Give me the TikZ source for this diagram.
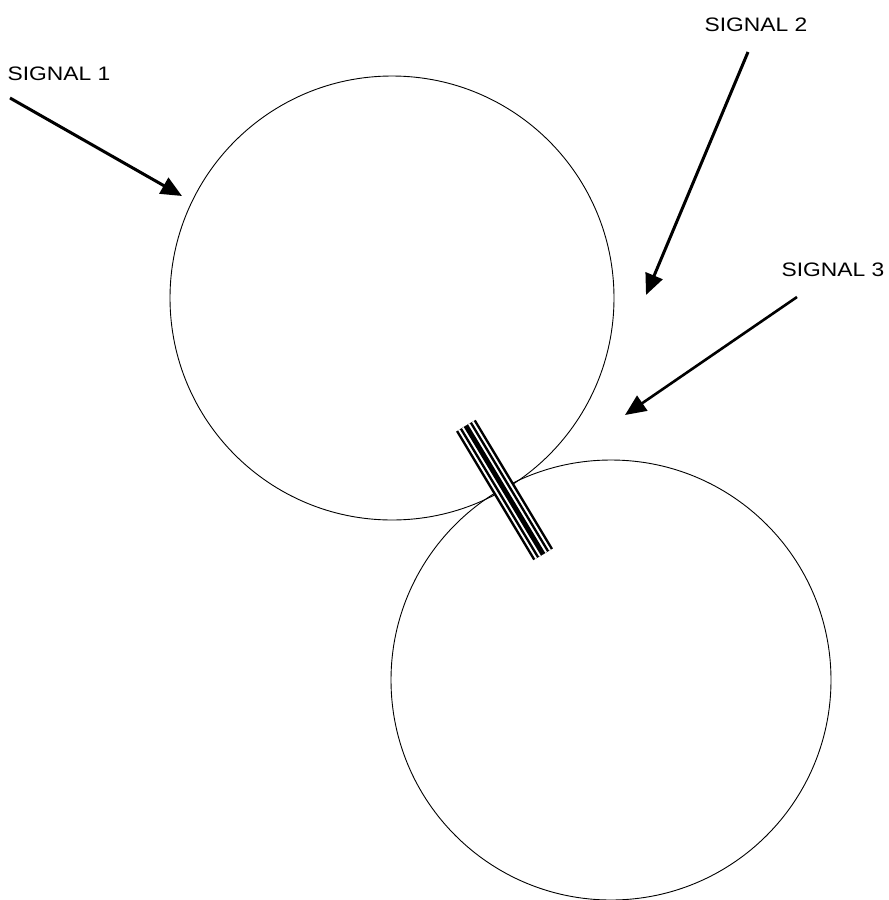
\documentclass[tikz,border=0pt]{standalone}
\usepackage{fontspec}
\setmainfont{Liberation Sans}
\usetikzlibrary{arrows.meta}
\begin{document}
\begin{tikzpicture}[x=1pt,y=-1pt,
  disc/.style={circle,draw=black,line width=0.9pt,inner sep=0pt},
  sig/.style={line width=3pt,-{Triangle[length=21pt,width=18pt]}},
  lbl/.style={font=\fontsize{19.5pt}{19.5pt}\selectfont,inner sep=0pt,xscale=1.17}]
\useasboundingbox[fill=white] (0,0) rectangle (889,900);
% circles
\node[disc,minimum size=444pt] (top) at (392,298) {};
\node[disc,minimum size=440pt] (bot) at (611,680) {};
% bar at the contact point
\coordinate (ba) at (465.9,425.7);
\coordinate (bb) at (543.1,554.3);
\draw[line width=23pt,black] (ba) -- (bb);
\draw[line width=18pt,white] (ba) -- (bb);
\draw[line width=14pt,black] (ba) -- (bb);
\draw[line width=9pt,white] (ba) -- (bb);
\draw[line width=5pt,black] (ba) -- (bb);
% labels
\node[lbl] (l1) at (59,74) {SIGNAL 1};
\node[lbl] (l2) at (756,25) {SIGNAL 2};
\node[lbl] (l3) at (833,270) {SIGNAL 3};
% arrows
\coordinate (s1a) at (10,98);
\coordinate (s1b) at (182,196);
\coordinate (s2a) at (748,52);
\coordinate (s2b) at (646,295);
\coordinate (s3a) at (797,297);
\coordinate (s3b) at (625,415);
\draw[sig] (s1a) -- (s1b);
\draw[sig] (s2a) -- (s2b);
\draw[sig,line width=2.6pt] (s3a) -- (s3b);
\end{tikzpicture}
\end{document}
